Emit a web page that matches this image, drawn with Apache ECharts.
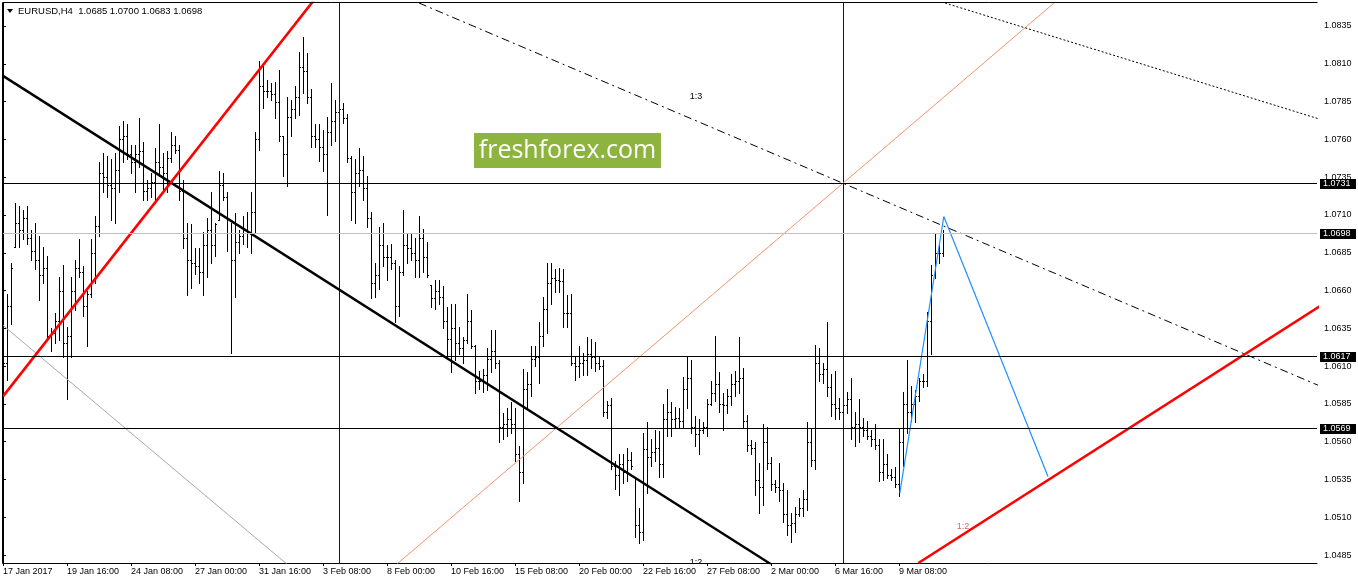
<!DOCTYPE html>
<html>
<head>
<meta charset="utf-8">
<script src="https://cdn.jsdelivr.net/npm/echarts@6/dist/echarts.min.js"></script>
<style>
html,body{margin:0;padding:0;background:#fff;}
#chart{width:1358px;height:584px;}
</style>
</head>
<body>
<div id="chart"></div>
<script>
// ---- data (EURUSD H4, bar index 0 = 17 Jan 2017 00:00) ----
const barOpen = [
1.0600,1.0612,1.0650,1.0689,1.0705,1.0700,1.0708,1.0695,1.0686,1.0680,
1.0670,1.0675,1.0630,1.0632,1.0640,1.0660,1.0625,1.0630,1.0660,1.0675,
1.0672,1.0650,1.0658,1.0685,1.0703,1.0738,1.0735,1.0730,1.0728,1.0740,
1.0760,1.0762,1.0750,1.0745,1.0750,1.0752,1.0726,1.0728,1.0732,1.0745,
1.0742,1.0738,1.0748,1.0756,1.0753,1.0726,1.0695,1.0680,1.0678,1.0676,
1.0672,1.0690,1.0700,1.0690,1.0707,1.0730,1.0722,1.0698,1.0680,1.0692,
1.0696,1.0700,1.0698,1.0712,1.0760,1.0795,1.0792,1.0792,1.0790,1.0785,
1.0762,1.0750,1.0775,1.0780,1.0788,1.0808,1.0805,1.0788,1.0762,1.0760,
1.0755,1.0750,1.0765,1.0772,1.0778,1.0780,1.0774,1.0748,1.0725,1.0738,
1.0740,1.0728,1.0708,1.0665,1.0670,1.0690,1.0682,1.0682,1.0678,1.0650,
1.0672,1.0690,1.0688,1.0685,1.0680,1.0695,1.0682,1.0664,1.0655,1.0660,
1.0656,1.0640,1.0628,1.0635,1.0625,1.0622,1.0627,1.0640,1.0623,1.0600,
1.0600,1.0604,1.0615,1.0620,1.0612,1.0570,1.0572,1.0575,1.0572,1.0552,
1.0540,1.0595,1.0598,1.0615,1.0616,1.0630,1.0648,1.0665,1.0668,1.0667,
1.0666,1.0645,1.0645,1.0612,1.0610,1.0612,1.0614,1.0618,1.0616,1.0612,
1.0610,1.0580,1.0584,1.0544,1.0538,1.0545,1.0540,1.0548,1.0537,1.0505,
1.0500,1.0555,1.0550,1.0553,1.0556,1.0545,1.0575,1.0580,1.0575,1.0576,
1.0574,1.0595,1.0602,1.0570,1.0565,1.0568,1.0570,1.0585,1.0592,1.0598,
1.0585,1.0584,1.0590,1.0598,1.0600,1.0602,1.0574,1.0558,1.0556,1.0535,
1.0530,1.0560,1.0546,1.0532,1.0530,1.0528,1.0512,1.0505,1.0506,1.0512,
1.0516,1.0522,1.0560,1.0548,1.0612,1.0605,1.0608,1.0596,1.0585,1.0582,
1.0580,1.0584,1.0588,1.0570,1.0572,1.0570,1.0568,1.0564,1.0562,1.0558,
1.0540,1.0545,1.0538,1.0537,1.0532,1.0560,1.0585,1.0580,1.0585,1.0590,
1.0600,1.0600,1.0640,1.0670,1.0685,1.0685
];
const barHigh = [
1.0618,1.0658,1.0678,1.0718,1.0716,1.0713,1.0716,1.0700,1.0705,1.0696,
1.0689,1.0683,1.0635,1.0645,1.0669,1.0677,1.0636,1.0669,1.0680,1.0694,
1.0676,1.0660,1.0694,1.0709,1.0745,1.0751,1.0749,1.0747,1.0751,1.0769,
1.0772,1.0770,1.0756,1.0756,1.0774,1.0758,1.0733,1.0738,1.0754,1.0770,
1.0751,1.0752,1.0765,1.0762,1.0756,1.0733,1.0705,1.0704,1.0688,1.0688,
1.0699,1.0708,1.0725,1.0705,1.0739,1.0738,1.0725,1.0705,1.0711,1.0700,
1.0709,1.0712,1.0725,1.0765,1.0812,1.0810,1.0799,1.0797,1.0798,1.0806,
1.0762,1.0788,1.0786,1.0795,1.0818,1.0828,1.0817,1.0793,1.0770,1.0770,
1.0766,1.0775,1.0797,1.0786,1.0790,1.0784,1.0777,1.0749,1.0747,1.0754,
1.0749,1.0736,1.0712,1.0678,1.0702,1.0705,1.0690,1.0691,1.0680,1.0676,
1.0713,1.0698,1.0698,1.0695,1.0709,1.0701,1.0692,1.0664,1.0667,1.0667,
1.0663,1.0649,1.0651,1.0651,1.0636,1.0629,1.0658,1.0647,1.0624,1.0607,
1.0608,1.0622,1.0634,1.0634,1.0614,1.0579,1.0582,1.0586,1.0582,1.0557,
1.0608,1.0606,1.0623,1.0623,1.0639,1.0656,1.0678,1.0678,1.0674,1.0675,
1.0674,1.0657,1.0658,1.0616,1.0623,1.0619,1.0629,1.0628,1.0626,1.0616,
1.0614,1.0587,1.0589,1.0547,1.0552,1.0552,1.0556,1.0553,1.0537,1.0516,
1.0566,1.0573,1.0562,1.0568,1.0567,1.0585,1.0595,1.0586,1.0583,1.0582,
1.0603,1.0616,1.0614,1.0577,1.0575,1.0573,1.0588,1.0600,1.0630,1.0606,
1.0592,1.0595,1.0605,1.0607,1.0629,1.0609,1.0578,1.0561,1.0560,1.0546,
1.0572,1.0570,1.0550,1.0535,1.0546,1.0533,1.0528,1.0513,1.0517,1.0523,
1.0528,1.0573,1.0569,1.0624,1.0622,1.0612,1.0639,1.0605,1.0607,1.0589,
1.0593,1.0593,1.0602,1.0580,1.0588,1.0576,1.0574,1.0568,1.0572,1.0562,
1.0562,1.0552,1.0542,1.0543,1.0569,1.0593,1.0614,1.0597,1.0594,1.0602,
1.0605,1.0646,1.0677,1.0698,1.0691,1.0700
];
const barLow = [
1.0597,1.0601,1.0638,1.0689,1.0689,1.0694,1.0691,1.0680,1.0674,1.0654,
1.0665,1.0627,1.0620,1.0625,1.0627,1.0616,1.0588,1.0616,1.0647,1.0669,
1.0643,1.0623,1.0656,1.0665,1.0696,1.0725,1.0722,1.0707,1.0705,1.0725,
1.0745,1.0747,1.0738,1.0725,1.0742,1.0720,1.0720,1.0722,1.0718,1.0736,
1.0727,1.0725,1.0745,1.0751,1.0720,1.0688,1.0657,1.0662,1.0671,1.0665,
1.0657,1.0669,1.0678,1.0683,1.0707,1.0720,1.0686,1.0619,1.0656,1.0685,
1.0691,1.0689,1.0685,1.0698,1.0753,1.0781,1.0788,1.0786,1.0774,1.0759,
1.0736,1.0729,1.0762,1.0774,1.0776,1.0791,1.0784,1.0755,1.0755,1.0746,
1.0739,1.0710,1.0756,1.0759,1.0772,1.0771,1.0745,1.0707,1.0705,1.0729,
1.0720,1.0702,1.0655,1.0656,1.0661,1.0676,1.0667,1.0674,1.0639,1.0643,
1.0670,1.0678,1.0680,1.0669,1.0669,1.0672,1.0669,1.0649,1.0648,1.0651,
1.0635,1.0616,1.0606,1.0614,1.0618,1.0612,1.0625,1.0622,1.0592,1.0595,
1.0593,1.0594,1.0606,1.0609,1.0560,1.0562,1.0564,1.0566,1.0547,1.0521,
1.0533,1.0582,1.0590,1.0610,1.0599,1.0623,1.0632,1.0651,1.0659,1.0659,
1.0636,1.0636,1.0611,1.0601,1.0603,1.0604,1.0604,1.0609,1.0607,1.0608,
1.0577,1.0576,1.0542,1.0529,1.0525,1.0533,1.0534,1.0542,1.0497,1.0493,
1.0495,1.0526,1.0544,1.0547,1.0537,1.0537,1.0564,1.0564,1.0570,1.0569,
1.0569,1.0582,1.0566,1.0557,1.0552,1.0566,1.0564,1.0584,1.0587,1.0580,
1.0568,1.0579,1.0584,1.0590,1.0592,1.0569,1.0554,1.0552,1.0525,1.0513,
1.0518,1.0542,1.0528,1.0527,1.0521,1.0507,1.0498,1.0494,1.0500,1.0511,
1.0511,1.0515,1.0544,1.0542,1.0600,1.0599,1.0590,1.0577,1.0575,1.0575,
1.0570,1.0579,1.0562,1.0557,1.0560,1.0564,1.0562,1.0557,1.0555,1.0534,
1.0535,1.0536,1.0535,1.0530,1.0524,1.0544,1.0566,1.0574,1.0573,1.0587,
1.0596,1.0597,1.0618,1.0668,1.0678,1.0683
];
const barClose = [
1.0612,1.0650,1.0675,1.0705,1.0700,1.0708,1.0695,1.0686,1.0680,1.0670,
1.0675,1.0630,1.0632,1.0640,1.0660,1.0625,1.0630,1.0660,1.0675,1.0672,
1.0650,1.0658,1.0685,1.0703,1.0738,1.0735,1.0730,1.0728,1.0740,1.0760,
1.0762,1.0750,1.0745,1.0750,1.0752,1.0726,1.0728,1.0732,1.0745,1.0742,
1.0738,1.0748,1.0756,1.0753,1.0726,1.0695,1.0680,1.0678,1.0676,1.0672,
1.0690,1.0700,1.0690,1.0704,1.0730,1.0722,1.0698,1.0680,1.0692,1.0696,
1.0700,1.0698,1.0712,1.0760,1.0795,1.0792,1.0792,1.0790,1.0785,1.0762,
1.0750,1.0775,1.0780,1.0788,1.0808,1.0805,1.0788,1.0762,1.0760,1.0755,
1.0750,1.0765,1.0772,1.0778,1.0780,1.0774,1.0748,1.0725,1.0738,1.0740,
1.0728,1.0708,1.0665,1.0670,1.0690,1.0682,1.0682,1.0678,1.0650,1.0672,
1.0690,1.0688,1.0685,1.0680,1.0695,1.0682,1.0670,1.0655,1.0660,1.0656,
1.0640,1.0628,1.0635,1.0625,1.0622,1.0627,1.0640,1.0623,1.0600,1.0600,
1.0604,1.0615,1.0620,1.0612,1.0570,1.0572,1.0575,1.0572,1.0552,1.0540,
1.0595,1.0598,1.0615,1.0616,1.0630,1.0648,1.0665,1.0668,1.0667,1.0666,
1.0645,1.0645,1.0612,1.0610,1.0612,1.0614,1.0618,1.0616,1.0612,1.0610,
1.0580,1.0584,1.0544,1.0538,1.0545,1.0540,1.0548,1.0544,1.0505,1.0500,
1.0555,1.0550,1.0553,1.0556,1.0545,1.0575,1.0580,1.0575,1.0576,1.0574,
1.0595,1.0602,1.0570,1.0565,1.0568,1.0570,1.0585,1.0592,1.0598,1.0585,
1.0584,1.0590,1.0598,1.0600,1.0602,1.0574,1.0558,1.0556,1.0535,1.0530,
1.0560,1.0546,1.0532,1.0530,1.0528,1.0512,1.0505,1.0506,1.0512,1.0516,
1.0522,1.0560,1.0548,1.0612,1.0605,1.0608,1.0596,1.0585,1.0582,1.0580,
1.0584,1.0588,1.0570,1.0572,1.0570,1.0568,1.0564,1.0562,1.0558,1.0540,
1.0545,1.0538,1.0537,1.0532,1.0560,1.0585,1.0580,1.0585,1.0590,1.0600,
1.0600,1.0640,1.0670,1.0685,1.0685,1.0698
];

const xTickBars = [0,16,32,48,64,80,96,112,128,144,160,176,192,208,224];
const xTickLabels = ['17 Jan 2017','19 Jan 16:00','24 Jan 08:00','27 Jan 00:00','31 Jan 16:00','3 Feb 08:00','8 Feb 00:00','10 Feb 16:00','15 Feb 08:00','20 Feb 00:00','22 Feb 16:00','27 Feb 08:00','2 Mar 00:00','6 Mar 16:00','9 Mar 08:00'];
const yTickValues = [1.0485,1.0510,1.0535,1.0560,1.0585,1.0610,1.0635,1.0660,1.0685,1.0710,1.0735,1.0760,1.0785,1.0810,1.0835];

const levelLines = [1.0731, 1.0617, 1.0569];
const bidLine = [1.0698];
const verticalBars = [84, 210];

// drawn objects, in [bar index, price]
const blackTrend  = [[0, 1.0802], [192, 1.0479]];
const redTrendUp  = [[0, 1.0590], [78, 1.0853]];
const grayTrend   = [[0, 1.0637], [71, 1.0479]];
const salmonTrend = [[98, 1.0478], [264, 1.0853]];
const dashDotLine = [[104, 1.08502], [330, 1.0596]];
const dottedLine  = [[235.5, 1.08502], [330, 1.07727]];
const redTrendLow = [[228.85, 1.04798], [330, 1.0651]];
const blueProjection = [[224.2, 1.0526], [235.2, 1.0709], [261.25, 1.0537]];

// ratio labels of the Gann objects: [bar index, price, text]
const gannLabelsInside = [[173.25, 1.04832, '1:2']];

const FONT = '"Liberation Sans", Arial, sans-serif';

const chart = echarts.init(document.getElementById('chart'), null, {renderer: 'canvas'});

const barData = barOpen.map((o, i) => [i, o, barHigh[i], barLow[i], barClose[i]]);

function lineSeries(data, color, width, type) {
  return {
    type: 'line', data: data, symbol: 'none', showSymbol: false, clip: true, silent: true,
    lineStyle: {color: color, width: width, type: type || 'solid'}, z: 5, animation: false
  };
}

const option = {
  animation: false,
  backgroundColor: '#ffffff',
  grid: {left: 3, top: 3, width: 1314, height: 560, show: false},
  xAxis: {
    type: 'value', min: 0, max: 328.5,
    axisLine: {show: true, lineStyle: {color: '#000', width: 1}},
    axisTick: {show: true, length: 3, customValues: xTickBars, lineStyle: {color: '#000'}},
    axisLabel: {
      customValues: xTickBars, align: 'left', margin: 4, color: '#000', fontSize: 9, fontFamily: FONT,
      formatter: v => xTickLabels[xTickBars.indexOf(Math.round(v))] || ''
    },
    splitLine: {show: false}
  },
  yAxis: {
    type: 'value', position: 'right', min: 1.04798, max: 1.08502, scale: true,
    axisLine: {show: true, lineStyle: {color: '#000', width: 1}},
    axisTick: {show: true, length: 3, inside: false, customValues: yTickValues, lineStyle: {color: '#000'}},
    axisLabel: {
      customValues: yTickValues, margin: 7, color: '#000', fontSize: 9, fontFamily: FONT,
      formatter: v => v.toFixed(4)
    },
    splitLine: {show: false}
  },
  graphic: [
    {type: 'line', shape: {x1: 2.5, y1: 2.5, x2: 1317.5, y2: 2.5}, style: {stroke: '#000', lineWidth: 1}, z: 10},
    {type: 'line', shape: {x1: 2.5, y1: 2.5, x2: 2.5, y2: 563.5}, style: {stroke: '#000', lineWidth: 1}, z: 10},
    {type: 'polygon', shape: {points: [[7, 9], [13, 9], [10, 13]]}, style: {fill: '#000'}, z: 10},
    {type: 'text', x: 18, y: 11, style: {text: 'EURUSD,H4  1.0685 1.0700 1.0683 1.0698', font: '9.5px ' + FONT, fill: '#000', verticalAlign: 'middle'}, z: 10},
    {type: 'rect', shape: {x: 474, y: 133, width: 187, height: 35}, style: {fill: '#8db43e'}, z: 10},
    {type: 'text', x: 567.5, y: 150.5, style: {text: 'freshforex.com', font: '25px "Open Sans", "Noto Sans", sans-serif', fill: '#ffffff', align: 'center', verticalAlign: 'middle'}, z: 11},
    {type: 'text', x: 696, y: 97, style: {text: '1:3', font: '9px ' + FONT, fill: '#000', align: 'center', verticalAlign: 'middle'}, z: 10},
    {type: 'text', x: 963, y: 527, style: {text: '1:2', font: '9px ' + FONT, fill: '#d06a6a', align: 'center', verticalAlign: 'middle'}, z: 10}
  ],
  series: [
    {
      type: 'custom', name: 'bars', data: barData, clip: true, silent: true, z: 2,
      encode: {x: 0, y: [1, 2, 3, 4]},
      renderItem: function (params, api) {
        const i = api.value(0);
        const pH = api.coord([i, api.value(2)]);
        const yL = api.coord([i, api.value(3)])[1];
        const yO = api.coord([i, api.value(1)])[1];
        const yC = api.coord([i, api.value(4)])[1];
        const x = Math.round(pH[0]);
        const top = Math.round(pH[1]);
        const bot = Math.round(yL);
        return {type: 'group', children: [
          {type: 'rect', shape: {x: x, y: top, width: 1, height: Math.max(1, bot - top + 1)}, style: {fill: '#000'}},
          {type: 'rect', shape: {x: x - 1, y: Math.round(yO), width: 1, height: 1}, style: {fill: '#000'}},
          {type: 'rect', shape: {x: x + 1, y: Math.round(yC), width: 1, height: 1}, style: {fill: '#000'}}
        ]};
      }
    },
    {
      type: 'custom', name: 'vlines', data: verticalBars.map(v => [v]), clip: true, silent: true, z: 3,
      encode: {x: 0},
      renderItem: function (params, api) {
        const cs = params.coordSys;
        const x = Math.round(api.coord([api.value(0), 1.06])[0]);
        return {type: 'rect', shape: {x: x, y: cs.y, width: 1, height: cs.height}, style: {fill: '#0000cc'}};
      }
    },
    lineSeries(grayTrend, '#a8a8a8', 1),
    lineSeries(salmonTrend, '#f7906e', 1),
    lineSeries(dashDotLine, '#000', 1, [8, 4, 2, 4]),
    lineSeries(dottedLine, '#000', 1, [2, 2]),
    lineSeries(blackTrend, '#000', 2.4),
    lineSeries(redTrendUp, '#ff0000', 2.6),
    lineSeries(redTrendLow, '#ff0000', 2.6),
    lineSeries(blueProjection, '#1e90ff', 1.2),
    {
      type: 'custom', name: 'gannLabels', data: gannLabelsInside, clip: true, silent: true, z: 6,
      encode: {x: 0, y: 1},
      renderItem: function (params, api) {
        const pt = api.coord([api.value(0), api.value(1)]);
        return {type: 'text', style: {text: gannLabelsInside[params.dataIndex][2], x: pt[0], y: pt[1], fill: '#000', font: '9px ' + FONT, align: 'center', verticalAlign: 'top'}};
      }
    },
    {
      type: 'custom', name: 'levels', clip: false, silent: true, z: 6,
      data: levelLines.map(p => [p, 0]).concat(bidLine.map(p => [p, 1])),
      encode: {y: 0},
      renderItem: function (params, api) {
        const cs = params.coordSys;
        const p = api.value(0);
        const isBid = api.value(1) === 1;
        const y = Math.round(api.coord([0, p])[1]);
        const bx = cs.x + cs.width + 3;
        return {type: 'group', children: [
          {type: 'rect', shape: {x: cs.x, y: y, width: cs.width, height: 1}, style: {fill: isBid ? '#c0c0c0' : '#000'}},
          {type: 'rect', shape: {x: bx, y: y - 4, width: 36, height: 10}, style: {fill: '#000'}, z2: 10},
          {type: 'text', style: {text: p.toFixed(4), x: bx + 3, y: y + 1, fill: '#fff', font: '9px ' + FONT, verticalAlign: 'middle', align: 'left'}, z2: 11}
        ]};
      }
    }
  ]
};
chart.setOption(option);
</script>
</body>
</html>
